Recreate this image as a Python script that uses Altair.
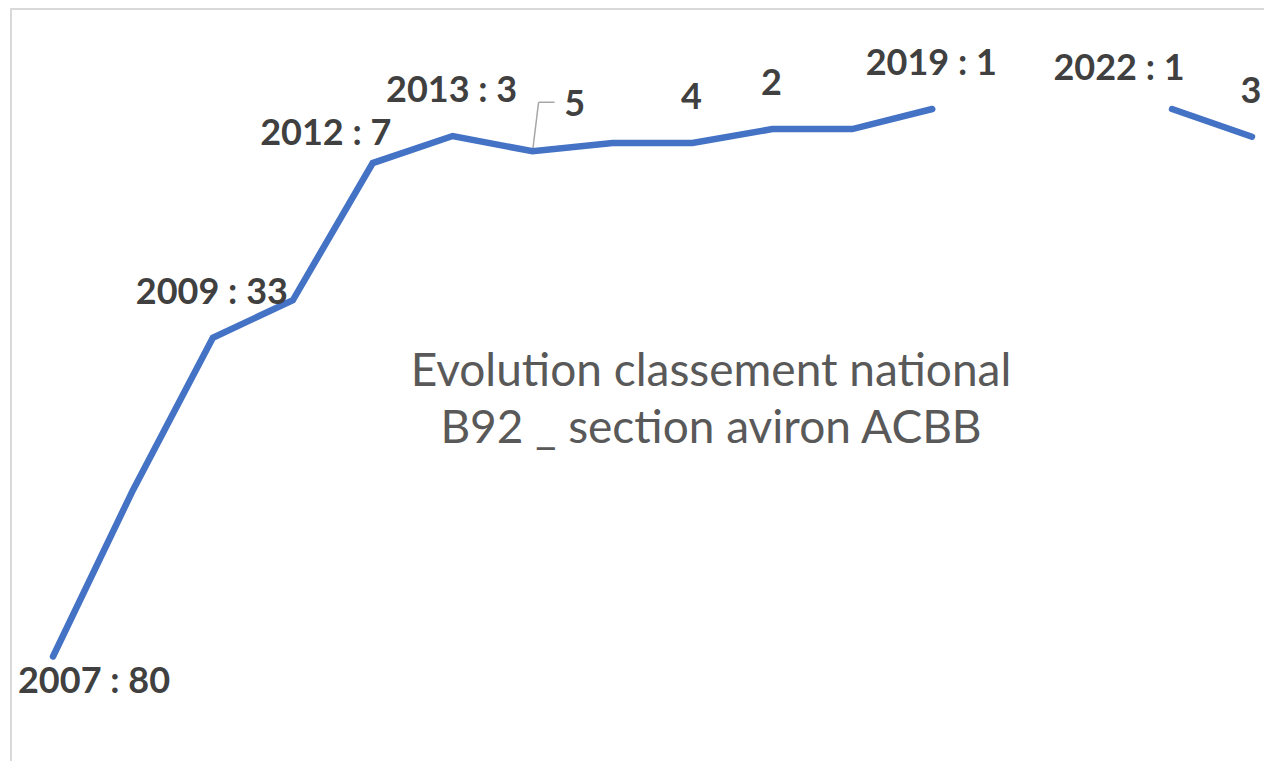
import altair as alt
import pandas as pd

# ---- data ----
years = list(range(2007, 2023))
values = [80, 56, 34, 28.6, 8.8, 4.9, 7.1, 5.9, 5.9, 3.9, 3.9, 1, None, None, 1, 5.0]

label_years = [2007, 2009, 2011, 2012, 2013, 2015, 2016, 2018, 2021, 2022]
label_texts = ["2007 : 80", "2009 : 33", "2012 : 7", "2013 : 3", "5", "4", "2",
               "2019 : 1", "2022 : 1", "3"]

title_lines = ["Evolution classement national", "B92 _ section aviron ACBB"]

# ---- layout / style ----
W, H = 1253, 753
X_DOMAIN = [2006.4745, 2022.1506]
Y_DOMAIN = [-13.574, 95.084]
PX_X = W / (X_DOMAIN[1] - X_DOMAIN[0])
PX_Y = H / (Y_DOMAIN[1] - Y_DOMAIN[0])

LINE_COLOR = "#4472C4"
LABEL_COLOR = "#404040"
TITLE_COLOR = "#595959"
FONT = "Lato"
DEFAULT_OFFSET = (-1, -34)
OFFSETS = {"2007 : 80": (41, 37), "2012 : 7": (-47, -18), "5": (42, -35),
           "2022 : 1": (-53, -29)}

df = pd.DataFrame({"year": years, "value": values})
df["segment"] = df["value"].isna().cumsum()
df = df.dropna().reset_index(drop=True)

xs = alt.Scale(domain=X_DOMAIN, nice=False, zero=False)
ys = alt.Scale(domain=Y_DOMAIN, nice=False, zero=False, reverse=True)
X = alt.X("year:Q", scale=xs, axis=None)
Y = alt.Y("value:Q", scale=ys, axis=None)

line = alt.Chart(df).mark_line(
    color=LINE_COLOR, strokeWidth=6.5, strokeCap="round", strokeJoin="miter"
).encode(x=X, y=Y, detail="segment:N")

lab_df = pd.DataFrame({"year": label_years, "label": label_texts})
lab_df = lab_df.merge(df[["year", "value"]], on="year", how="left")

layers = []
# leader line for the "5" label
lead_src = lab_df[lab_df["label"] == "5"].iloc[0]
x0, v0 = lead_src["year"], lead_src["value"]
lead = pd.DataFrame({
    "x": [x0, x0 + 6 / PX_X],
    "y": [v0, v0 - 49 / PX_Y],
    "x2": [x0 + 6 / PX_X, x0 + 22 / PX_X],
    "y2": [v0 - 49 / PX_Y, v0 - 49 / PX_Y],
})
leader = alt.Chart(lead).mark_rule(color="#a6a6a6", strokeWidth=1.5).encode(
    x=alt.X("x:Q", scale=xs, axis=None), y=alt.Y("y:Q", scale=ys, axis=None),
    x2="x2:Q", y2="y2:Q")

for _, row in lab_df.iterrows():
    dx, dy = OFFSETS.get(row["label"], DEFAULT_OFFSET)
    layers.append(
        alt.Chart(pd.DataFrame([row])).mark_text(
            font=FONT, fontWeight="bold", fontSize=36, color=LABEL_COLOR,
            align="center", baseline="alphabetic", dx=dx, dy=dy
        ).encode(x=X, y=Y, text="label:N")
    )

one = pd.DataFrame({"a": [0]})
title = alt.Chart(one).mark_text(
    text=title_lines, font=FONT, fontSize=46, color=TITLE_COLOR,
    align="center", baseline="alphabetic", lineHeight=57
).encode(x=alt.value(700), y=alt.value(378))

border_top = alt.Chart(one).mark_rule(color="#d9d9d9", strokeWidth=2).encode(
    x=alt.value(0), x2=alt.value(W + 10), y=alt.value(1))
border_left = alt.Chart(one).mark_rule(color="#d9d9d9", strokeWidth=2).encode(
    x=alt.value(0), y=alt.value(0), y2=alt.value(H + 10))

chart = alt.layer(border_top, border_left, leader, line, title, *layers).properties(
    width=W, height=H,
    autosize=alt.AutoSizeParams(type="none"),
    padding={"left": 3, "top": 0, "right": 0, "bottom": 0},
    background="white",
).configure_view(stroke=None)

chart.save("out.html", embed_options={"renderer": "svg", "actions": False})
